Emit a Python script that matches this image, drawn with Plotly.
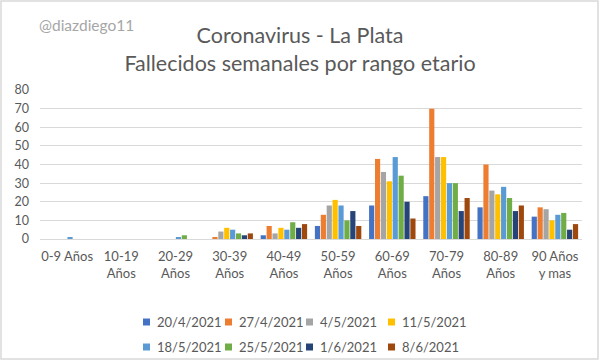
import plotly.graph_objects as go

categories = ["0-9 Años", "10-19<br>Años", "20-29<br>Años", "30-39<br>Años", "40-49<br>Años",
              "50-59<br>Años", "60-69<br>Años", "70-79<br>Años", "80-89<br>Años", "90 Años<br>y mas"]
series_names = ["20/4/2021", "27/4/2021", "4/5/2021", "11/5/2021",
                "18/5/2021", "25/5/2021", "1/6/2021", "8/6/2021"]
s_20_4 = [0, 0, 0, 0, 2, 7, 18, 23, 17, 12]
s_27_4 = [0, 0, 0, 1, 7, 13, 43, 70, 40, 17]
s_4_5 = [0, 0, 0, 4, 3, 18, 36, 44, 26, 16]
s_11_5 = [0, 0, 0, 6, 6, 21, 31, 44, 24, 10]
s_18_5 = [1, 0, 1, 5, 5, 18, 44, 30, 28, 13]
s_25_5 = [0, 0, 2, 3, 9, 10, 34, 30, 22, 14]
s_1_6 = [0, 0, 0, 2, 6, 15, 20, 15, 15, 5]
s_8_6 = [0, 0, 0, 3, 8, 7, 11, 22, 18, 8]
all_series = [s_20_4, s_27_4, s_4_5, s_11_5, s_18_5, s_25_5, s_1_6, s_8_6]
colors = ["#4472C4", "#ED7D31", "#A5A5A5", "#FFC000", "#5B9BD5", "#70AD47", "#264478", "#9E480E"]
y_ticks = [0, 10, 20, 30, 40, 50, 60, 70, 80]

FONT = "Lato"
TXT = "#595959"

fig = go.Figure()
for name, vals, c in zip(series_names, all_series, colors):
    fig.add_trace(go.Bar(x=categories, y=vals, name=name, showlegend=False,
                         marker=dict(color=c, line=dict(width=0))))

W, H = 600, 361
ml, mr, mt, mb = 40, 18, 90, 122
pw, ph = W - ml - mr, H - mt - mb


def px_x(x):
    return (x - ml) / pw


def px_y(y):
    return (H - mb - y) / ph


annotations = [dict(text="@diazdiego11", xref="paper", yref="paper",
                    x=px_x(37), y=px_y(25), xanchor="left", yanchor="middle",
                    showarrow=False, font=dict(family=FONT, size=15.5, color="#A6A6A6"))]
shapes = [dict(type="rect", xref="paper", yref="paper",
               x0=px_x(1), x1=px_x(W - 2), y0=px_y(H - 2), y1=px_y(1),
               line=dict(color="#D9D9D9", width=1.5))]

# custom legend: two rows of four
col_text_x = [155, 237, 318, 400]
row_y = [322, 347]
for i, (name, c) in enumerate(zip(series_names, colors)):
    r, k = divmod(i, 4)
    tx, ty = col_text_x[k], row_y[r]
    shapes.append(dict(type="rect", xref="paper", yref="paper",
                       x0=px_x(tx - 12), x1=px_x(tx - 5), y0=px_y(ty + 3.5), y1=px_y(ty - 3.5),
                       fillcolor=c, line=dict(width=0)))
    annotations.append(dict(text=name, xref="paper", yref="paper", x=px_x(tx), y=px_y(ty),
                            xanchor="left", yanchor="middle", showarrow=False,
                            font=dict(family=FONT, size=13, color=TXT)))

fig.update_layout(
    width=W, height=H,
    margin=dict(l=ml, r=mr, t=mt, b=mb),
    paper_bgcolor="white", plot_bgcolor="white",
    barmode="group", bargap=0.13, bargroupgap=0.12,
    showlegend=False,
    font=dict(family=FONT, color=TXT, size=12),
    title=dict(text="Coronavirus - La Plata<br>Fallecidos semanales por rango etario",
               x=0.5, xanchor="center", y=1 - 43 / H, yanchor="middle",
               font=dict(family=FONT, size=21.5, color=TXT)),
    xaxis=dict(showgrid=False, showline=True, linecolor="#D9D9D9", linewidth=1,
               ticks="", ticklabelstandoff=5, tickfont=dict(family=FONT, size=13, color=TXT)),
    yaxis=dict(range=[0, 80], tickvals=y_ticks, showgrid=True, gridcolor="#D9D9D9",
               zeroline=False, showline=False, ticks="", ticklabelstandoff=10,
               tickfont=dict(family=FONT, size=12.5, color=TXT)),
    annotations=annotations,
    shapes=shapes,
)

fig.write_html("out.html", config={"displayModeBar": False},
               post_script="document.body.style.margin='0';document.body.style.overflow='hidden';")
